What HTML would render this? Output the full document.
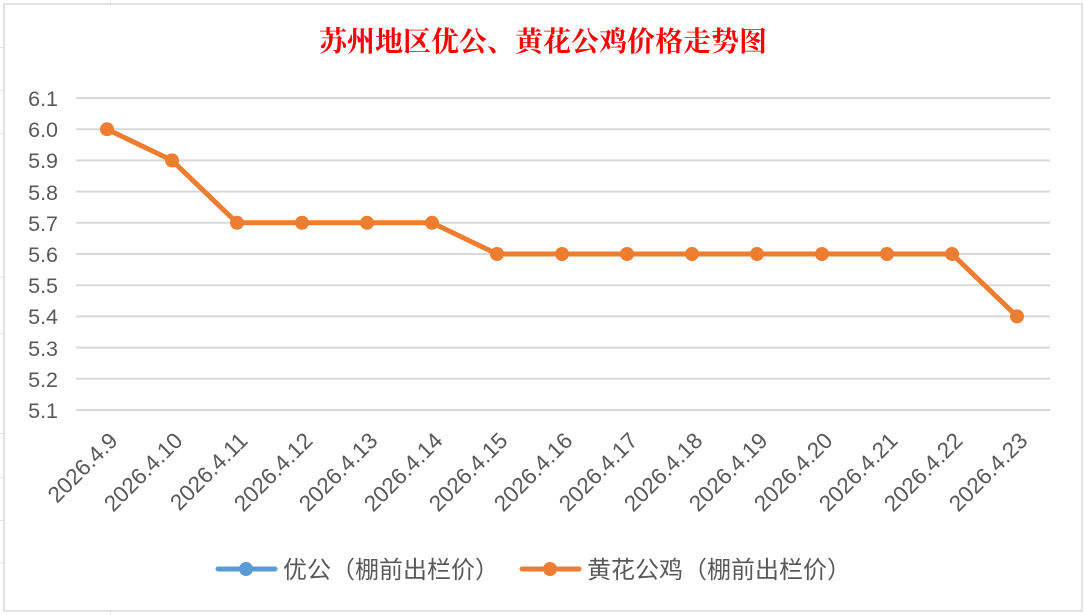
<!DOCTYPE html>
<html><head><meta charset="utf-8"><style>
body{margin:0;background:#fff;}
svg{display:block;}
text{font-family:"Liberation Sans","Noto Sans CJK SC",sans-serif;}
</style></head><body>
<svg width="1085" height="615" xmlns="http://www.w3.org/2000/svg">
<rect width="1085" height="615" fill="#fff"/>
<g stroke="#e6e6e6" stroke-width="1">
<line x1="110.5" y1="0" x2="110.5" y2="4"/><line x1="110.5" y1="611" x2="110.5" y2="615"/>
<line x1="0" y1="47.5" x2="4" y2="47.5"/><line x1="0" y1="90.5" x2="4" y2="90.5"/><line x1="0" y1="133.5" x2="4" y2="133.5"/>
<line x1="0" y1="276.5" x2="4" y2="276.5"/><line x1="0" y1="333.5" x2="4" y2="333.5"/><line x1="0" y1="433.5" x2="4" y2="433.5"/><line x1="0" y1="477.5" x2="4" y2="477.5"/><line x1="0" y1="520.5" x2="4" y2="520.5"/><line x1="0" y1="563.5" x2="4" y2="563.5"/>
</g>
<rect x="4" y="4" width="1078" height="607" fill="#fff" stroke="#d9d9d9" stroke-width="1.5"/>
<text x="543" y="51" text-anchor="middle" font-size="28" fill="#ff0000" font-weight="bold" style="font-family:'Noto Serif CJK SC','Liberation Serif',serif">苏州地区优公、黄花公鸡价格走势图</text>
<g stroke="#d9d9d9" stroke-width="2">
<line x1="76" y1="98" x2="1050" y2="98"/><line x1="76" y1="129.2" x2="1050" y2="129.2"/><line x1="76" y1="160.4" x2="1050" y2="160.4"/><line x1="76" y1="191.6" x2="1050" y2="191.6"/><line x1="76" y1="222.8" x2="1050" y2="222.8"/><line x1="76" y1="254" x2="1050" y2="254"/><line x1="76" y1="285.2" x2="1050" y2="285.2"/><line x1="76" y1="316.4" x2="1050" y2="316.4"/><line x1="76" y1="347.6" x2="1050" y2="347.6"/><line x1="76" y1="378.8" x2="1050" y2="378.8"/><line x1="76" y1="410" x2="1050" y2="410"/>
</g>
<g font-size="21.5" fill="#595959" text-anchor="end">
<text x="58" y="106">6.1</text><text x="58" y="137">6.0</text><text x="58" y="168">5.9</text><text x="58" y="200">5.8</text><text x="58" y="231">5.7</text><text x="58" y="262">5.6</text><text x="58" y="293">5.5</text><text x="58" y="324">5.4</text><text x="58" y="356">5.3</text><text x="58" y="387">5.2</text><text x="58" y="418">5.1</text>
</g>
<g font-size="22.5" fill="#595959" text-anchor="end">
<text transform="translate(119,442) rotate(-45)">2026.4.9</text>
<text transform="translate(184,442) rotate(-45)">2026.4.10</text>
<text transform="translate(249,442) rotate(-45)">2026.4.11</text>
<text transform="translate(314,442) rotate(-45)">2026.4.12</text>
<text transform="translate(379,442) rotate(-45)">2026.4.13</text>
<text transform="translate(444,442) rotate(-45)">2026.4.14</text>
<text transform="translate(509,442) rotate(-45)">2026.4.15</text>
<text transform="translate(574,442) rotate(-45)">2026.4.16</text>
<text transform="translate(639,442) rotate(-45)">2026.4.17</text>
<text transform="translate(704,442) rotate(-45)">2026.4.18</text>
<text transform="translate(769,442) rotate(-45)">2026.4.19</text>
<text transform="translate(834,442) rotate(-45)">2026.4.20</text>
<text transform="translate(899,442) rotate(-45)">2026.4.21</text>
<text transform="translate(964,442) rotate(-45)">2026.4.22</text>
<text transform="translate(1029,442) rotate(-45)">2026.4.23</text>
</g>
<polyline fill="none" stroke="#ed7d31" stroke-width="5" stroke-linejoin="round" points="107,129.2 172,160.4 237,222.8 302,222.8 367,222.8 432,222.8 497,254 562,254 627,254 692,254 757,254 822,254 887,254 952,254 1017,316.4"/>
<g fill="#ed7d31">
<circle cx="107" cy="129.2" r="7"/><circle cx="172" cy="160.4" r="7"/><circle cx="237" cy="222.8" r="7"/><circle cx="302" cy="222.8" r="7"/><circle cx="367" cy="222.8" r="7"/><circle cx="432" cy="222.8" r="7"/><circle cx="497" cy="254" r="7"/><circle cx="562" cy="254" r="7"/><circle cx="627" cy="254" r="7"/><circle cx="692" cy="254" r="7"/><circle cx="757" cy="254" r="7"/><circle cx="822" cy="254" r="7"/><circle cx="887" cy="254" r="7"/><circle cx="952" cy="254" r="7"/><circle cx="1017" cy="316.4" r="7"/>
</g>
<line x1="218" y1="569" x2="275" y2="569" stroke="#5b9bd5" stroke-width="5" stroke-linecap="round"/>
<circle cx="246" cy="569" r="7" fill="#5b9bd5"/>
<text x="283" y="578" font-size="24" fill="#595959">优公（棚前出栏价）</text>
<line x1="522" y1="569" x2="579" y2="569" stroke="#ed7d31" stroke-width="5" stroke-linecap="round"/>
<circle cx="550" cy="569" r="7" fill="#ed7d31"/>
<text x="587" y="578" font-size="24" fill="#595959">黄花公鸡（棚前出栏价）</text>
</svg>
</body></html>
